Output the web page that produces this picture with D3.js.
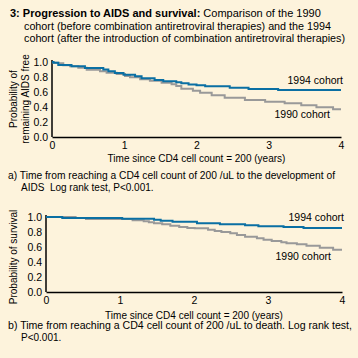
<!DOCTYPE html>
<html><head><meta charset="utf-8">
<script src="https://cdn.jsdelivr.net/npm/d3@7"></script>
<style>
html,body{margin:0;padding:0;background:#fdf3dc;}
svg{display:block;font-family:"Liberation Sans",Arial,sans-serif;}
</style></head><body>
<script>
// ---- data ----
const yTicks = [0, 0.2, 0.4, 0.6, 0.8, 1.0];
const xTicks = [0, 1, 2, 3, 4];
const seriesNames = ["1994 cohort", "1990 cohort"];
// Panel a: AIDS-free probability (step curves: [time, value])
const aids1994 = [[0,1.0],[0.02,0.99],[0.087,0.96],[0.27,0.943],[0.456,0.92],[0.71,0.90],[0.78,0.876],[0.87,0.853],[0.99,0.83],[1.15,0.81],[1.24,0.783],[1.42,0.76],[1.54,0.743],[1.72,0.73],[1.79,0.716],[1.89,0.70],[2.0,0.69],[2.12,0.676],[2.46,0.657],[2.72,0.64],[3.13,0.627],[4.0,0.627]];
const aids1990 = [[0,1.0],[0.02,0.99],[0.087,0.983],[0.156,0.956],[0.25,0.943],[0.364,0.924],[0.48,0.897],[0.664,0.876],[0.756,0.857],[0.895,0.84],[1.01,0.813],[1.08,0.796],[1.22,0.77],[1.355,0.75],[1.517,0.724],[1.655,0.703],[1.72,0.68],[1.79,0.644],[1.95,0.617],[2.05,0.59],[2.21,0.556],[2.39,0.524],[2.67,0.493],[2.95,0.47],[3.22,0.449],[3.45,0.423],[3.66,0.396],[3.89,0.369],[4.0,0.369]];
// Panel b: survival probability
const surv1994 = [[0,1.0],[0.22,0.987],[1.03,0.978],[1.46,0.964],[1.55,0.951],[1.71,0.938],[2.04,0.916],[2.35,0.902],[2.69,0.889],[2.87,0.876],[3.21,0.867],[3.48,0.853],[4.0,0.853]];
const surv1990 = [[0,1.0],[0.40,0.987],[0.54,0.973],[1.17,0.956],[1.32,0.942],[1.39,0.929],[1.46,0.916],[1.57,0.902],[1.68,0.884],[1.80,0.867],[1.91,0.855],[2.01,0.849],[2.19,0.831],[2.28,0.813],[2.37,0.80],[2.49,0.782],[2.58,0.76],[2.69,0.738],[2.85,0.716],[2.94,0.698],[3.05,0.68],[3.18,0.662],[3.25,0.649],[3.39,0.636],[3.52,0.618],[3.70,0.591],[3.88,0.564],[4.0,0.564]];
const titleBold = "3: Progression to AIDS and survival:";
const titleLines = ["\u00a0Comparison of the 1990", "cohort (before combination antiretroviral therapies) and the 1994", "cohort (after the introduction of combination antiretroviral therapies)"];
const xTitle = "Time since CD4 cell count = 200 (years)";
const captionA = ["a) Time from reaching a CD4 cell count of 200 /uL to the development of", "AIDS\u00a0 Log rank test, P<0.001."];
const captionB = ["b) Time from reaching a CD4 cell count of 200 /uL to death. Log rank test,", "P<0.001."];

const W = 358, H = 358;
const BLUE = "#0a6fa3", GRAY = "#999999";
const svg = d3.select("body").append("svg").attr("width", W).attr("height", H);
svg.append("rect").attr("width", W).attr("height", H).attr("fill", "#fdf3dc");

// title
const t1 = svg.append("text").attr("x", 10).attr("y", 17).attr("font-size", 11).attr("fill", "#000");
t1.append("tspan").attr("font-weight", "bold").text(titleBold);
t1.append("tspan").text(titleLines[0]);
svg.append("text").attr("x", 24).attr("y", 29.5).attr("font-size", 11)
  .attr("textLength", 307).attr("lengthAdjust", "spacingAndGlyphs").text(titleLines[1]);
svg.append("text").attr("x", 24).attr("y", 42).attr("font-size", 11)
  .attr("textLength", 321).attr("lengthAdjust", "spacingAndGlyphs").text(titleLines[2]);

function panel(cfg) {
  const x = d3.scaleLinear().domain([0, 4]).range(cfg.xr);
  const y = d3.scaleLinear().domain([0, 1]).range(cfg.yr);
  const g = svg.append("g");
  const ax = g.append("g").attr("transform", `translate(0,${cfg.yr[0]})`)
    .call(d3.axisBottom(x).tickValues(xTicks).tickFormat(d3.format("d")).tickSize(0).tickPadding(cfg.xPad));
  const ay = g.append("g").attr("transform", `translate(${cfg.xr[0]},0)`)
    .call(d3.axisLeft(y).tickValues(yTicks).tickFormat(d3.format(".1f")).tickSize(0).tickPadding(4));
  [ax, ay].forEach(a => {
    a.select(".domain").attr("stroke", "#000").attr("stroke-width", 1.5);
    a.selectAll("text").attr("font-size", 10.5).attr("fill", "#000").attr("font-family", "Liberation Sans, Arial, sans-serif");
  });
  ay.select(".domain").attr("d", `M0,${cfg.yr[0]}V${cfg.yr[1] - 2}`);
  const line = d3.line().x(d => x(d[0])).y(d => y(d[1])).curve(d3.curveStepAfter);
  g.append("path").datum(cfg.s90).attr("d", line).attr("fill", "none").attr("stroke", GRAY).attr("stroke-width", 2);
  g.append("path").datum(cfg.s94).attr("d", line).attr("fill", "none").attr("stroke", BLUE).attr("stroke-width", 2);
  // labels
  g.append("text").attr("x", cfg.l94[0]).attr("y", cfg.l94[1]).attr("text-anchor", "end").attr("font-size", 10.5).text(seriesNames[0]);
  g.append("text").attr("x", cfg.l90[0]).attr("y", cfg.l90[1]).attr("text-anchor", "end").attr("font-size", 10.5).text(seriesNames[1]);
  g.append("text").attr("x", (cfg.xr[0] + cfg.xr[1]) / 2).attr("y", cfg.xtY).attr("text-anchor", "middle").attr("font-size", 10).text(xTitle);
  cfg.ylab.forEach((s, i) => {
    g.append("text").attr("transform", `translate(${cfg.ylabX[i]},${cfg.ylabY}) rotate(-90)`).attr("text-anchor", "middle").attr("font-size", 10).text(s);
  });
  cfg.cap.forEach((s, i) => {
    const t = g.append("text").attr("x", i === 0 ? 8 : 21).attr("y", cfg.capY[i]).attr("font-size", 10).text(s);
    if (i === 0) t.attr("textLength", cfg.capLen).attr("lengthAdjust", "spacingAndGlyphs");
  });
}

panel({xr: [52, 341], yr: [137, 62], xPad: 5, s94: aids1994, s90: aids1990,
  l94: [343, 83.5], l90: [330, 117.5], xtY: 161.5, ylab: ["Probability of", "remaining AIDS free"], ylabX: [16.5, 28.5], ylabY: 99,
  cap: captionA, capY: [178.5, 190.5], capLen: 327});
panel({xr: [46, 342], yr: [292, 217], xPad: 4.5, s94: surv1994, s90: surv1990,
  l94: [344, 220.5], l90: [331, 259.5], xtY: 318.5, ylab: ["Probability of survival"], ylabX: [16.5], ylabY: 257,
  cap: captionB, capY: [328.5, 340.5], capLen: 344});
</script>
</body></html>
